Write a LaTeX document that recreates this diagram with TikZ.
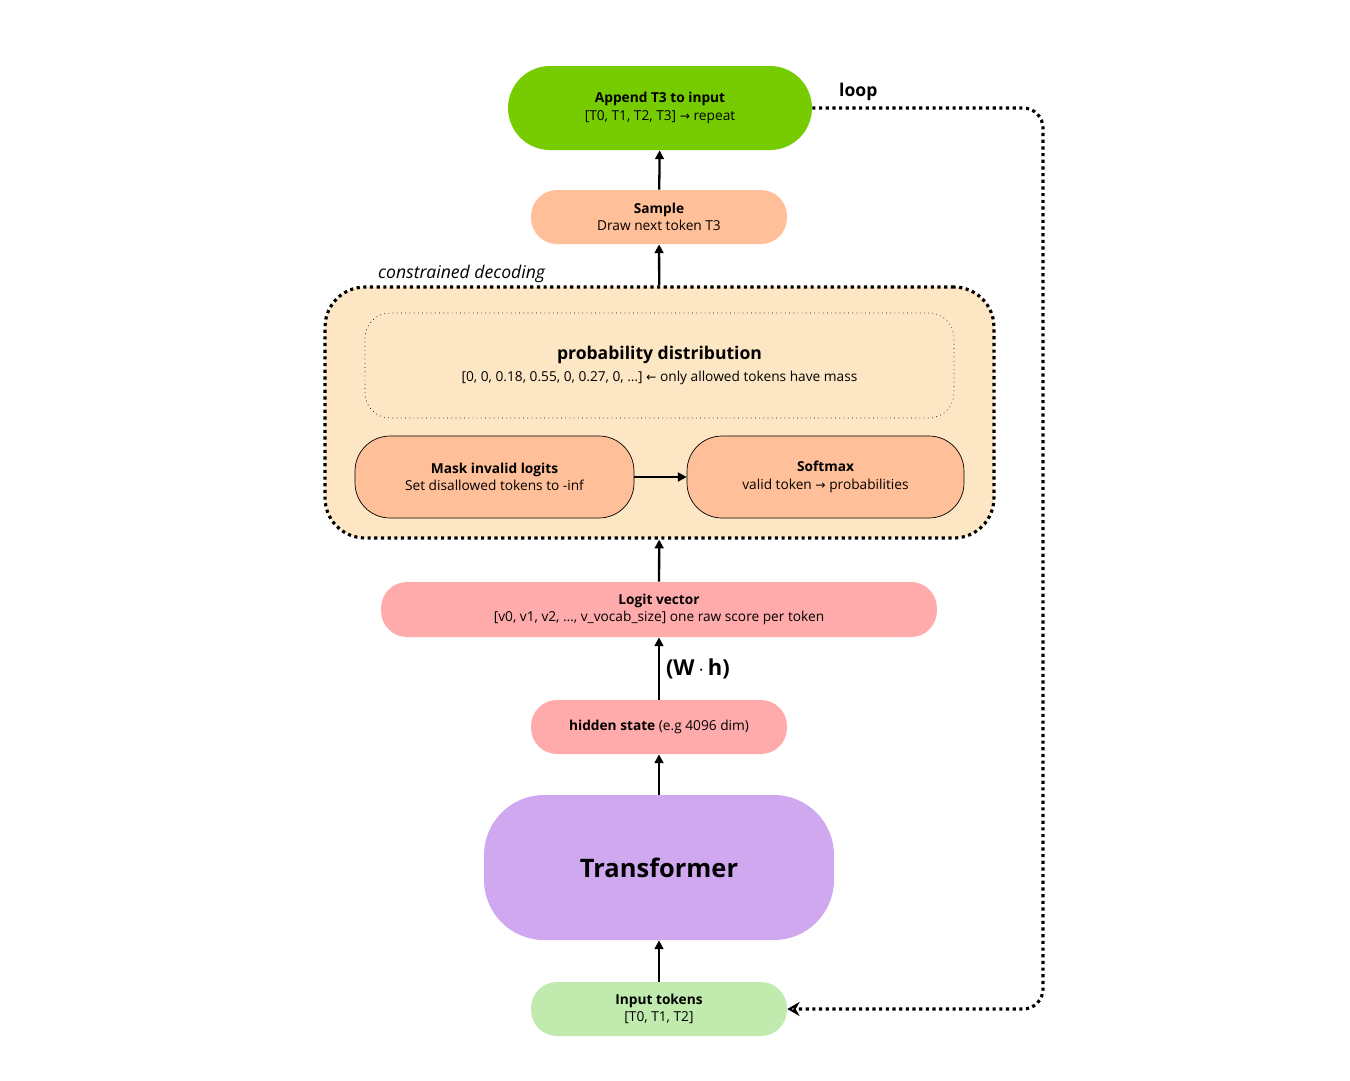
\documentclass[tikz,border=0pt]{standalone}
\usepackage{fontspec}
\setmainfont{Open Sans}
\newfontfamily\symfont{DejaVu Sans}
\usetikzlibrary{arrows.meta,positioning}
\definecolor{appendgreen}{HTML}{76CC00}
\definecolor{peach}{HTML}{FFBF99}
\definecolor{cream}{HTML}{FDE6C4}
\definecolor{pinkred}{HTML}{FFABAB}
\definecolor{lilac}{HTML}{D0A8F0}
\definecolor{palegreen}{HTML}{C0EAAE}
\newcommand{\ra}{{\symfont\scriptsize →}}
\newcommand{\la}{{\symfont\scriptsize ←}}
\begin{document}
\begin{tikzpicture}[x=0.02cm,y=-0.02cm,
    every node/.style={font=\fontsize{7.8}{10}\selectfont,align=center},
    pill/.style={rounded corners=0.52cm,inner sep=0pt},
    flow/.style={-{Triangle[length=5pt,width=5pt]},line width=1.3pt}]
    \useasboundingbox (0,0) rectangle (1350,1080);
    %%% box of the constrained step
    \node[draw,dotted,line width=1.8pt,fill=cream,rounded corners=0.8cm,minimum width=13.38cm,minimum height=5.02cm] (cbox) at (659.5,412.5) {};
    \node[font=\fontsize{10}{12}\selectfont\itshape,anchor=south west] (clabel) at (372,289) {constrained decoding};
    \node[draw,dotted,thin,rounded corners=0.5cm,minimum width=11.78cm,minimum height=2.1cm] (prob) at (659.5,365.5)
        {{\fontsize{10}{12}\selectfont\bfseries probability distribution}\\[3pt][0, 0, 0.18, 0.55, 0, 0.27, 0, \dots] \la{} only allowed tokens have mass};
    \node[draw,thin,pill,rounded corners=0.7cm,fill=peach,minimum width=5.58cm,minimum height=1.64cm] (mask) at (494.5,477)
        {\textbf{Mask invalid logits}\\Set disallowed tokens to -inf};
    \node[draw,thin,pill,rounded corners=0.7cm,fill=peach,minimum width=5.54cm,minimum height=1.64cm] (softmax) at (825.5,477)
        {\textbf{Softmax}\\valid token \ra{} probabilities};
    %%% main column
    \node[pill,rounded corners=0.84cm,fill=appendgreen,minimum width=6.08cm,minimum height=1.68cm] (append) at (660,108)
        {\textbf{Append T3 to input}\\{}[T0, T1, T2, T3] \ra{} repeat};
    \node[pill,fill=peach,minimum width=5.12cm,minimum height=1.08cm] (sample) at (659,217)
        {\textbf{Sample}\\Draw next token T3};
    \node[pill,fill=pinkred,minimum width=11.12cm,minimum height=1.1cm] (logit) at (659,609.5)
        {\textbf{Logit vector}\\{}[v0, v1, v2, \dots, v\_vocab\_size] one raw score per token};
    \node[pill,fill=pinkred,minimum width=5.12cm,minimum height=1.08cm] (hidden) at (659,727)
        {\textbf{hidden state} (e.g 4096 dim)};
    \node[pill,rounded corners=1.2cm,fill=lilac,minimum width=7cm,minimum height=2.9cm,font=\fontsize{14.5}{16}\selectfont\bfseries] (transformer) at (659,867.5)
        {Transformer};
    \node[pill,fill=palegreen,minimum width=5.12cm,minimum height=1.08cm] (input) at (659,1009)
        {\textbf{Input tokens}\\{}[T0, T1, T2]};
    \coordinate (loopa) at (1043,108);
    \coordinate (loopb) at (1043,1009);
    %%% connectors
    \draw[flow] (input) -- (transformer);
    \draw[flow] (transformer) -- (hidden);
    \draw[flow] (hidden) -- node[right,font=\fontsize{12.5}{14}\selectfont\bfseries] {(W\,$\cdot$\,h)} (logit);
    \draw[flow] (logit) -- (cbox);
    \draw[flow] (cbox) -- (sample);
    \draw[flow] (sample) -- (append);
    \draw[flow] (mask) -- (softmax);
    \draw[dotted,line width=1.8pt,-{Stealth[open,length=7pt,width=8pt]},rounded corners=0.4cm]
        (append.east) -- (loopa) -- node[pos=0,above left,font=\fontsize{10}{12}\selectfont\bfseries,xshift=-90] {loop} (loopb) -- (input.east);
\end{tikzpicture}
\end{document}
